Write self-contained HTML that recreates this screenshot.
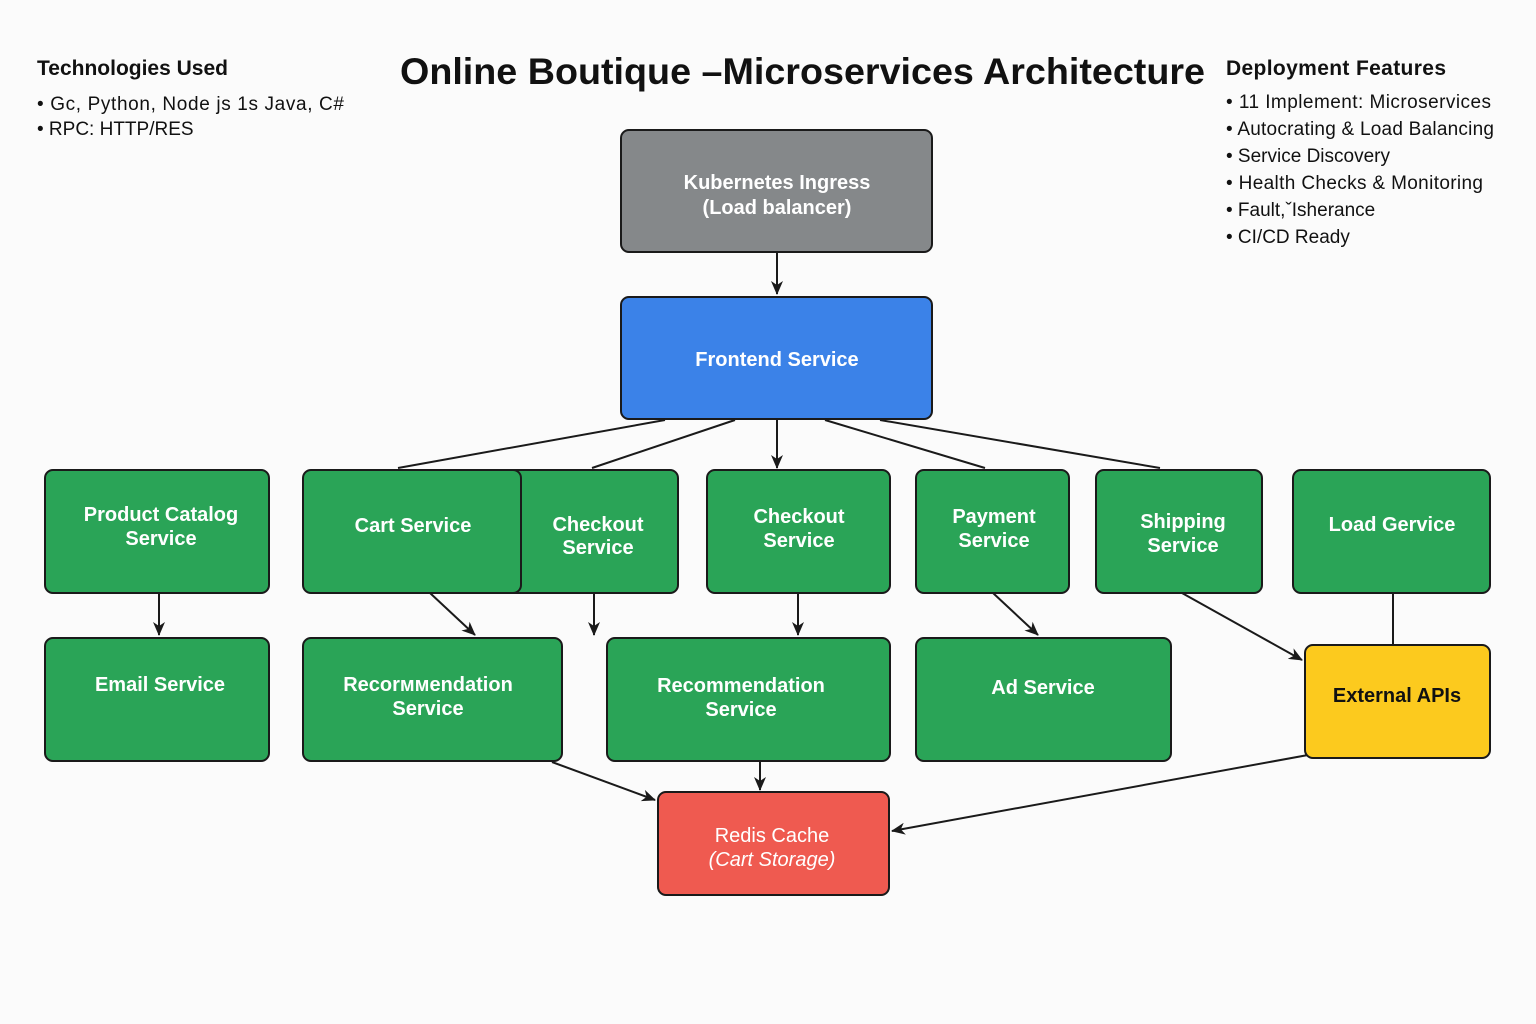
<!DOCTYPE html>
<html><head><meta charset="utf-8"><style>
html,body{margin:0;padding:0;background:#fbfbfb;}
svg{display:block;font-family:"Liberation Sans",sans-serif;}
.w{fill:#fff;font-size:20px;text-anchor:middle;font-weight:bold;}
.n{fill:#fff;font-size:20px;text-anchor:middle;}
.b{fill:#2aa457;stroke:#1a1a1a;stroke-width:2;}
.l{stroke:#1a1a1a;stroke-width:2;fill:none;}
.t{fill:#111;font-size:19px;}
</style></head><body>
<svg width="1536" height="1024" viewBox="0 0 1536 1024">
<defs><marker id="a" markerWidth="14" markerHeight="14" refX="13" refY="7" orient="auto" markerUnits="userSpaceOnUse" viewBox="0 0 14 14"><path d="M0,1 L14,7 L0,13 L4,7 Z" fill="#1a1a1a"/></marker></defs>
<rect width="1536" height="1024" fill="#fbfbfb"/>
<text x="400" y="84" font-size="37" font-weight="bold" fill="#111" textLength="805" lengthAdjust="spacingAndGlyphs">Online Boutique –Microservices Architecture</text>
<text x="37" y="75" font-size="21" font-weight="bold" fill="#111">Technologies Used</text>
<text x="37" y="110" class="t" textLength="307">•  Gc, Python, Node js 1s Java, C#</text>
<text x="37" y="135" class="t">•  RPC: HTTP/RES</text>
<text x="1226" y="75" font-size="21" font-weight="bold" fill="#111" textLength="220">Deployment Features</text>
<g class="t" font-size="18">
<text x="1226" y="108" textLength="265">•  11 Implement: Microservices</text>
<text x="1226" y="135" textLength="268">•  Autocrating &amp; Load Balancing</text>
<text x="1226" y="162">•  Service Discovery</text>
<text x="1226" y="189" textLength="257">•  Health Checks &amp; Monitoring</text>
<text x="1226" y="216">•  Fault,ˇIsherance</text>
<text x="1226" y="243">•  CI/CD Ready</text>
</g>
<path class="l" d="M777,252 L777,294" marker-end="url(#a)"/>
<path class="l" d="M665,420 L398,468 M735,420 L592,468 M825,420 L985,468 M880,420 L1160,468 M1393,593 L1393,645"/>
<path class="l" d="M777,420 L777,468" marker-end="url(#a)"/>
<path class="l" d="M159,593 L159,635" marker-end="url(#a)"/>
<path class="l" d="M430,593 L475,635" marker-end="url(#a)"/>
<path class="l" d="M594,593 L594,635" marker-end="url(#a)"/>
<path class="l" d="M798,593 L798,635" marker-end="url(#a)"/>
<path class="l" d="M993,593 L1038,635" marker-end="url(#a)"/>
<path class="l" d="M1182,593 L1302,660" marker-end="url(#a)"/>
<path class="l" d="M552,762 L655,800" marker-end="url(#a)"/>
<path class="l" d="M760,762 L760,790" marker-end="url(#a)"/>
<path class="l" d="M1308,755 L892,831" marker-end="url(#a)"/>
<rect x="621" y="130" width="311" height="122" rx="8" fill="#85888a" stroke="#1a1a1a" stroke-width="2"/>
<text x="777" y="189" class="w">Kubernetes Ingress</text><text x="777" y="214" class="w">(Load balancer)</text>
<rect x="621" y="297" width="311" height="122" rx="8" fill="#3b82e8" stroke="#1a1a1a" stroke-width="2"/>
<text x="777" y="366" class="w">Frontend Service</text>
<rect class="b" x="45" y="470" width="224" height="123" rx="8"/>
<text x="161" y="521" class="w">Product Catalog</text><text x="161" y="545" class="w">Service</text>
<rect class="b" x="420" y="470" width="258" height="123" rx="8"/>
<text x="598" y="531" class="w">Checkout</text><text x="598" y="554" class="w">Service</text>
<rect class="b" x="303" y="470" width="218" height="123" rx="8"/>
<text x="413" y="532" class="w">Cart Service</text>
<rect class="b" x="707" y="470" width="183" height="123" rx="8"/>
<text x="799" y="523" class="w">Checkout</text><text x="799" y="547" class="w">Service</text>
<rect class="b" x="916" y="470" width="153" height="123" rx="8"/>
<text x="994" y="523" class="w">Payment</text><text x="994" y="547" class="w">Service</text>
<rect class="b" x="1096" y="470" width="166" height="123" rx="8"/>
<text x="1183" y="528" class="w">Shipping</text><text x="1183" y="552" class="w">Service</text>
<rect class="b" x="1293" y="470" width="197" height="123" rx="8"/>
<text x="1392" y="531" class="w">Load Gervice</text>
<rect class="b" x="45" y="638" width="224" height="123" rx="8"/>
<text x="160" y="691" class="w">Email Service</text>
<rect class="b" x="303" y="638" width="259" height="123" rx="8"/>
<text x="428" y="691" class="w">Recorммendation</text><text x="428" y="715" class="w">Service</text>
<rect class="b" x="607" y="638" width="283" height="123" rx="8"/>
<text x="741" y="692" class="w">Recommendation</text><text x="741" y="716" class="w">Service</text>
<rect class="b" x="916" y="638" width="255" height="123" rx="8"/>
<text x="1043" y="694" class="w">Ad Service</text>
<rect x="1305" y="645" width="185" height="113" rx="8" fill="#fcca1e" stroke="#1a1a1a" stroke-width="2"/>
<text x="1397" y="702" font-size="20" font-weight="bold" fill="#111" text-anchor="middle">External APIs</text>
<rect x="658" y="792" width="231" height="103" rx="8" fill="#ef5a50" stroke="#1a1a1a" stroke-width="2"/>
<text x="772" y="842" class="n">Redis Cache</text><text x="772" y="866" class="n" font-style="italic">(Cart Storage)</text>
</svg>
</body></html>
